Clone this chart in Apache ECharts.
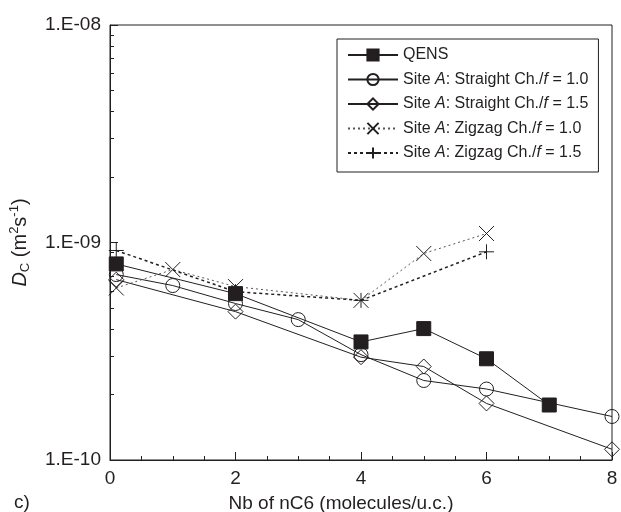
<!DOCTYPE html>
<html lang="en">
  <head>
    <meta charset="UTF-8" />
    <title>Dc vs loading</title>
    <script src="https://cdn.jsdelivr.net/npm/echarts@6/dist/echarts.min.js"></script>
    <style>
      html, body { margin: 0; padding: 0; background: #fff; }
      #chart { width: 621px; height: 512px; }
    </style>
  </head>
  <body>
    <div id="chart"></div>
    <script>
      // values (x = molecules/u.c., y = Dc in m2/s)
      const qensX = [0.1, 2, 4, 5, 6, 7];
      const qensY = [7.97e-10, 5.82e-10, 3.49e-10, 4.02e-10, 2.92e-10, 1.79e-10];

      const straight10X = [0.1, 1, 2, 3, 4, 5, 6, 8];
      const straight10Y = [7.12e-10, 6.34e-10, 5.24e-10, 4.42e-10, 3.05e-10, 2.32e-10, 2.12e-10, 1.585e-10];

      const straight15X = [0.1, 2, 4, 5, 6, 8];
      const straight15Y = [6.75e-10, 4.81e-10, 2.97e-10, 2.69e-10, 1.82e-10, 1.12e-10];

      const zigzag10X = [0.1, 1, 2, 4, 5, 6];
      const zigzag10Y = [6.18e-10, 7.51e-10, 6.27e-10, 5.42e-10, 8.9e-10, 1.1e-9];

      const zigzag15X = [0.1, 2, 4, 6];
      const zigzag15Y = [9.19e-10, 5.94e-10, 5.42e-10, 9.06e-10];

      const seriesNames = [
        "QENS",
        "Site A: Straight Ch./f = 1.0",
        "Site A: Straight Ch./f = 1.5",
        "Site A: Zigzag Ch./f = 1.0",
        "Site A: Zigzag Ch./f = 1.5",
      ];
      const yTickLabels = ["1.E-10", "1.E-09", "1.E-08"];
      const yMinorTicks = [2, 3, 4, 5, 6, 7, 8, 9].flatMap((k) => [k * 1e-10, k * 1e-9]);

      const ink = "#231f20";
      const font = "Liberation Sans";
      const pair = (xs, ys) => xs.map((x, i) => [x, ys[i]]);

      const line = (name, xs, ys, symbol, size, fill, lineStyle) => ({
        name,
        type: "line",
        data: pair(xs, ys),
        symbol,
        symbolSize: size,
        itemStyle: { color: fill, borderColor: ink, borderWidth: 1 },
        lineStyle: Object.assign({ color: ink, width: 1 }, lineStyle),
        emphasis: { disabled: true },
      });

      const chart = echarts.init(document.getElementById("chart"));
      chart.setOption({
        animation: false,
        textStyle: { fontFamily: font, color: ink },
        grid: {
          left: 110, right: 9, top: 25, bottom: 52,
          outerBoundsMode: "none", containLabel: false,
          show: true, borderColor: ink, borderWidth: 1,
        },
        legend: {
          left: 337, top: 39, orient: "vertical",
          padding: [8, 10, 11, 10],
          itemWidth: 50, itemHeight: 14, itemGap: 8.5,
          borderColor: ink, borderWidth: 1,
          data: seriesNames,
          formatter: (n) =>
            n.startsWith("Site A")
              ? n.replace(/^Site A(.*)\/f = (.*)$/, "{n|Site }{i|A}{n|$1/}{i|f}{n| = $2}")
              : "{n|" + n + "}",
          textStyle: {
            fontFamily: font, color: ink, fontSize: 16,
            rich: {
              n: { fontFamily: font, fontSize: 16, color: ink, lineHeight: 18 },
              i: { fontFamily: font, fontSize: 16, color: ink, lineHeight: 18, fontStyle: "italic" },
            },
          },
        },
        xAxis: {
          type: "value", min: 0, max: 8, interval: 2,
          name: "Nb of nC6 (molecules/u.c.)",
          nameLocation: "middle", nameGap: 34,
          nameTextStyle: { fontFamily: font, fontSize: 19, color: ink, padding: [0, 40, 0, 0] },
          axisLine: { lineStyle: { color: ink, width: 1 } },
          axisTick: { inside: true, length: 8, lineStyle: { color: ink } },
          minorTick: { show: true, splitNumber: 4, length: 4, lineStyle: { color: ink } },
          splitLine: { show: false },
          axisLabel: { fontFamily: font, fontSize: 19, color: ink, margin: 9 },
        },
        yAxis: [
          {
            type: "log", logBase: 10, min: 1e-10, max: 1e-8,
            name: "{i|D}{sub|C}{n| (m}{sup|2}{n|s}{sup|-1}{n|)}",
            nameLocation: "middle", nameGap: 78, nameRotate: 90,
            nameTextStyle: {
              rich: {
                n: { fontFamily: font, fontSize: 20, color: ink, lineHeight: 24 },
                i: { fontFamily: font, fontSize: 20, color: ink, lineHeight: 24, fontStyle: "italic" },
                sub: { fontFamily: font, fontSize: 13, color: ink, lineHeight: 14, verticalAlign: "bottom" },
                sup: { fontFamily: font, fontSize: 13, color: ink, lineHeight: 14, verticalAlign: "top" },
              },
            },
            axisLine: { show: true, lineStyle: { color: ink, width: 1 } },
            axisTick: { inside: true, length: 8, lineStyle: { color: ink } },
            splitLine: { show: false },
            axisLabel: {
              fontFamily: font, fontSize: 19, color: ink, margin: 9,
              formatter: (v) => yTickLabels[Math.round(Math.log10(v)) + 10],
            },
          },
          {
            type: "log", logBase: 10, min: 1e-10, max: 1e-8, position: "left",
            axisLine: { show: false },
            axisTick: { show: true, inside: true, length: 4, customValues: yMinorTicks, lineStyle: { color: ink } },
            axisLabel: { show: false },
            splitLine: { show: false },
          },
        ],
        series: [
          line(seriesNames[1], straight10X, straight10Y, "circle", 14, "transparent", {}),
          line(seriesNames[2], straight15X, straight15Y, "diamond", 15, "transparent", {}),
          line(seriesNames[3], zigzag10X, zigzag10Y, "path://M0,0L10,10M0,10L10,0", 15, "transparent",
            { type: [2, 3], color: "#555" }),
          line(seriesNames[4], zigzag15X, zigzag15Y, "path://M5,0L5,10M0,5L10,5", 15, "transparent",
            { type: [3, 3], width: 1.5 }),
          line(seriesNames[0], qensX, qensY, "rect", 14, ink, {}),
        ],
        graphic: [
          {
            type: "text", left: 14, top: 493,
            style: { text: "c)", font: "19px " + font, fill: ink },
          },
        ],
      });
    </script>
  </body>
</html>
